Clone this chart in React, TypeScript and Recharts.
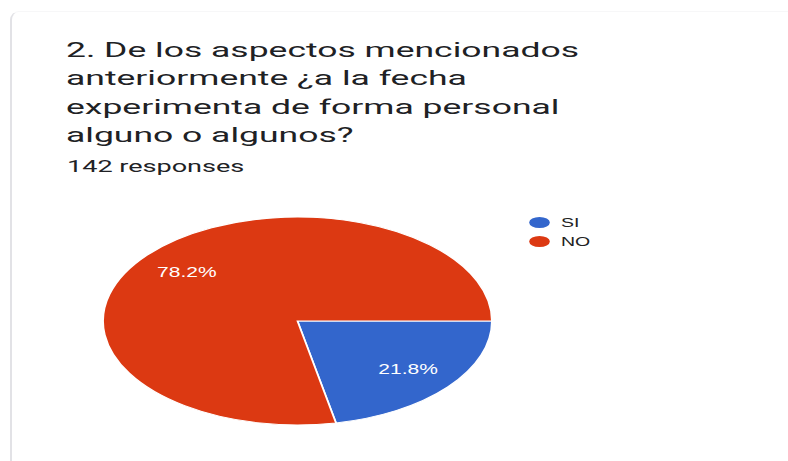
import React from 'react';
import { PieChart, Pie, Cell, Legend } from 'recharts';

const categories = ['SI', 'NO'];
const responses = [31, 111];
const sliceColors = ['#3366cc', '#dc3912'];
const titleLines = [
  '2. De los aspectos mencionados',
  'anteriormente ¿a la fecha',
  'experimenta de forma personal',
  'alguno o algunos?',
];
const responseCountText = '142 responses';

const data = categories.map((name, i) => ({ name, value: responses[i] }));

const PIE_SCALE = 1.87;
const LABEL_SCALE = 1.5;
const TITLE_SCALE = 1.69;
const RADIAN = Math.PI / 180;

const renderLabel = (props: any) => {
  const { cx, cy, midAngle, outerRadius, percent } = props;
  const r = outerRadius * 0.735;
  const x = cx + r * Math.cos(-midAngle * RADIAN);
  const y = cy + r * Math.sin(-midAngle * RADIAN);
  const s = LABEL_SCALE / PIE_SCALE;
  return (
    <text
      x={x}
      y={y}
      transform={`translate(${x} ${y}) scale(${s} 1) translate(${-x} ${-y})`}
      textAnchor="middle"
      dominantBaseline="central"
      fill="#ffffff"
      fontSize={14}
      fontFamily="'Liberation Sans', Arial, sans-serif"
    >
      {`${(percent * 100).toFixed(1)}%`}
    </text>
  );
};

const renderLegend = (props: any) => {
  const payload: any[] = props.payload || [];
  const ordered = categories
    .map((c) => payload.find((p: any) => p.value === c))
    .filter(Boolean);
  return (
    <div>
      {ordered.map((entry: any, i: number) => (
        <div key={i} style={{ display: 'flex', alignItems: 'center', height: 19 }}>
          <div
            style={{
              width: 11.5,
              height: 11,
              borderRadius: '50%',
              background: entry.color,
              flex: '0 0 auto',
            }}
          />
          <span
            style={{
              marginLeft: 5.5,
              fontSize: 13,
              fontFamily: "'Liberation Sans', Arial, sans-serif",
              color: '#222222',
              display: 'inline-block',
              transform: `scaleX(${LABEL_SCALE / PIE_SCALE})`,
              transformOrigin: 'left center',
              whiteSpace: 'nowrap',
            }}
          >
            {entry.value}
          </span>
        </div>
      ))}
    </div>
  );
};

export default function App() {
  const localWidth = 788 / PIE_SCALE;
  return (
    <div
      style={{
        position: 'absolute',
        left: 0,
        top: 0,
        width: 788,
        height: 461,
        overflow: 'hidden',
        background: '#ffffff',
      }}
    >
      <div
        style={{
          position: 'absolute',
          left: 10,
          top: 11,
          width: 820,
          height: 500,
          borderLeft: '2px solid #e2e2e6',
          borderTop: '1px solid #f7f7f8',
          borderTopLeftRadius: 9,
          boxSizing: 'border-box',
        }}
      />
      <div
        style={{
          position: 'absolute',
          left: 66,
          top: 35.5,
          fontFamily: 'Roboto, sans-serif',
          fontSize: 21,
          lineHeight: '28.5px',
          color: '#202124',
          transform: `scaleX(${TITLE_SCALE})`,
          transformOrigin: 'left top',
          whiteSpace: 'nowrap',
        }}
      >
        {titleLines.map((line, i) => (
          <div key={i}>{line}</div>
        ))}
      </div>
      <div
        style={{
          position: 'absolute',
          left: 67,
          top: 156.5,
          fontFamily: 'Roboto, sans-serif',
          fontSize: 16,
          lineHeight: '20px',
          color: '#202124',
          transform: `scaleX(${TITLE_SCALE})`,
          transformOrigin: 'left top',
          whiteSpace: 'nowrap',
        }}
      >
        {responseCountText}
      </div>
      <div
        style={{
          position: 'absolute',
          left: 0,
          top: 0,
          width: localWidth,
          height: 461,
          transform: `scaleX(${PIE_SCALE})`,
          transformOrigin: 'left top',
        }}
      >
        <PieChart width={localWidth} height={461} margin={{ top: 0, right: 0, bottom: 0, left: 0 }}>
          <Pie
            data={data}
            dataKey="value"
            nameKey="name"
            cx={297.5 / PIE_SCALE}
            cy={321}
            outerRadius={104}
            startAngle={0}
            endAngle={-360}
            stroke="#ffffff"
            strokeWidth={1}
            label={renderLabel}
            labelLine={false}
            isAnimationActive={false}
          >
            {data.map((d, i) => (
              <Cell key={d.name} fill={sliceColors[i]} />
            ))}
          </Pie>
          <Legend
            content={renderLegend}
            layout="vertical"
            align="right"
            verticalAlign="top"
            wrapperStyle={{ position: 'absolute', left: 282.5, top: 212.5, width: 60 }}
          />
        </PieChart>
      </div>
    </div>
  );
}
